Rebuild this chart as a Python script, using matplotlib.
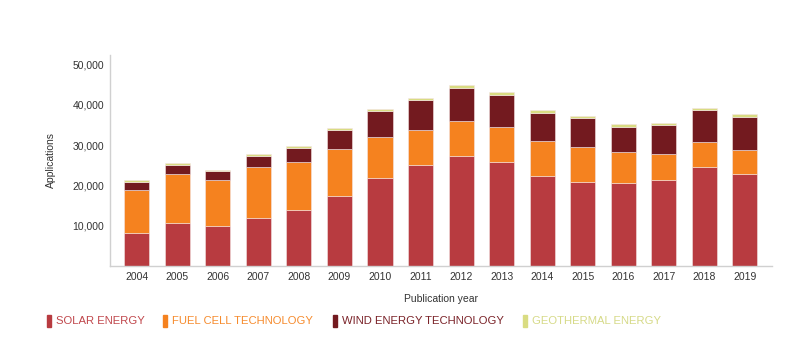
import numpy as np
import matplotlib
matplotlib.use('Agg')
import matplotlib.pyplot as plt
from matplotlib.patches import Rectangle
from matplotlib.ticker import FuncFormatter

# Data (stack tops converted to segment sizes)
years = ['2004', '2005', '2006', '2007', '2008', '2009', '2010', '2011',
         '2012', '2013', '2014', '2015', '2016', '2017', '2018', '2019']
solar = [8100, 10760, 9940, 12010, 13910, 17390, 21860, 25010,
         27250, 25840, 22360, 20870, 20700, 21280, 24600, 22780]
fuel_cell = [10800, 12020, 11430, 12500, 11930, 11760, 10270, 8780,
             8770, 8610, 8700, 8610, 7620, 6630, 6210, 6040]
wind = [2050, 2310, 2150, 2900, 3390, 4640, 6300, 7370,
        8200, 7950, 7040, 7210, 6290, 7040, 7870, 8200]
geothermal = [420, 410, 420, 420, 500, 500, 570, 660,
              750, 750, 580, 660, 590, 580, 660, 670]

labels = ['SOLAR ENERGY', 'FUEL CELL TECHNOLOGY', 'WIND ENERGY TECHNOLOGY', 'GEOTHERMAL ENERGY']
colors = ['#B83B40', '#F5821F', '#731A1F', '#D9DC82']
text_colors = ['#C0474C', '#F68B2D', '#7A2228', '#D6DA88']

plt.rcParams['font.family'] = ['Liberation Sans', 'DejaVu Sans']

fig = plt.figure(figsize=(7.89, 3.51), dpi=100)
ax = fig.add_axes([0.1394, 0.2422, 0.8391, 0.6011])

x = np.arange(len(years))
bottom = np.zeros(len(years))
for vals, c in zip([solar, fuel_cell, wind, geothermal], colors):
    ax.bar(x, vals, width=0.62, bottom=bottom, color=c,
           edgecolor='#f4e4e4', linewidth=0.4)
    bottom += np.array(vals)

ax.set_xlim(-0.66, 15.67)
ax.set_ylim(0, 52400)
ax.set_yticks([10000, 20000, 30000, 40000, 50000])
ax.yaxis.set_major_formatter(FuncFormatter(lambda v, p: f'{int(v):,}'))
ax.set_xticks(x)
ax.set_xticklabels(years)
ax.tick_params(axis='both', length=0, labelsize=7.5, colors='#333333', pad=4)

for s in ['top', 'right']:
    ax.spines[s].set_visible(False)
for s in ['left', 'bottom']:
    ax.spines[s].set_color('#d0d0d0')
    ax.spines[s].set_linewidth(1.0)

ax.set_ylabel('Applications', fontsize=7.5, color='#333333', labelpad=12)
ax.set_xlabel('Publication year', fontsize=7.5, color='#333333', labelpad=9)

# Custom legend row
legend_x = [47, 163, 333, 523]
for lx, lab, c, tc in zip(legend_x, labels, colors, text_colors):
    fig.patches.append(Rectangle((lx / 789, 1 - 327 / 351), 4 / 789, 12 / 351,
                                 transform=fig.transFigure, color=c))
    fig.text((lx + 9) / 789, 1 - 321 / 351, lab, fontsize=8.1, color=tc,
             va='center', ha='left')

fig.savefig('out.png', dpi=100)
